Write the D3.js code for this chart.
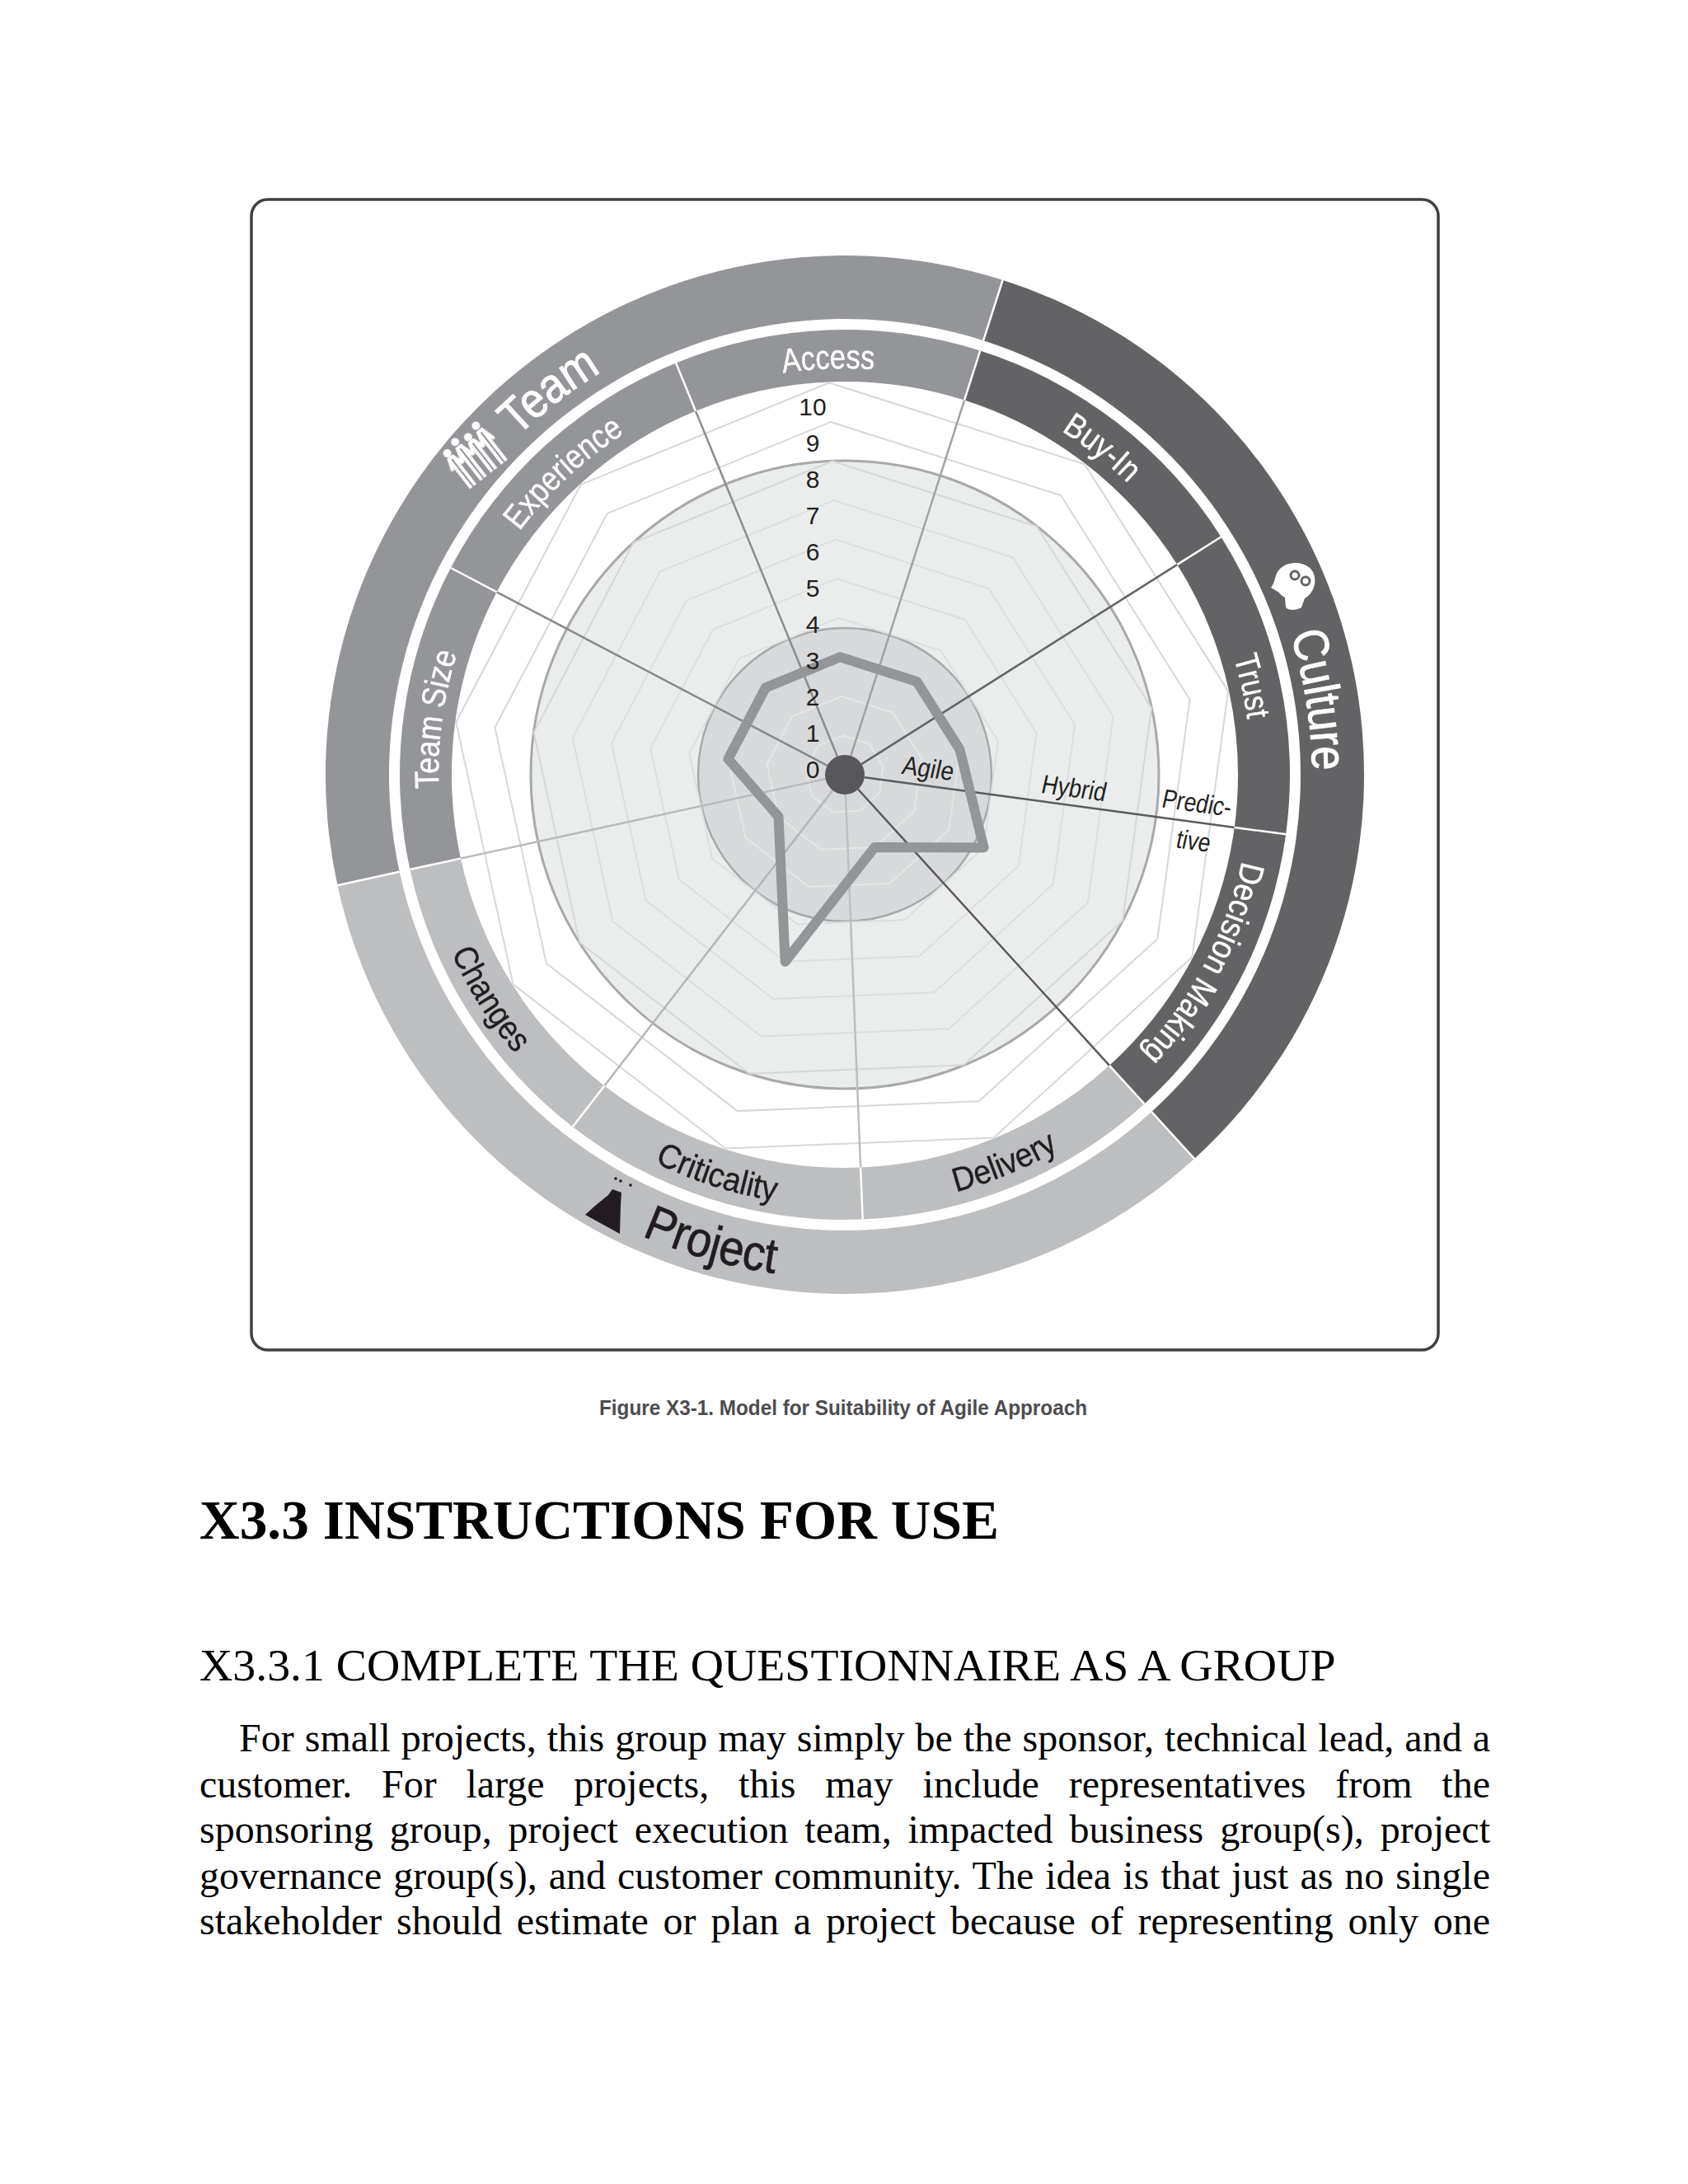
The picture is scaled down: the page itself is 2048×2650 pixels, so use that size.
<!DOCTYPE html>
<html><head><meta charset="utf-8">
<script src="https://cdn.jsdelivr.net/npm/d3@7/dist/d3.min.js"></script>
<style>html,body{margin:0;padding:0;background:#fff}svg{display:block}</style>
</head><body><svg id="page" width="2048" height="2650"></svg>
<script>
const categories=["Access","Buy-In","Trust","Decision Making","Delivery","Criticality","Changes","Team Size","Experience"];
const values=[3,3,3,4,2,5,2,3,3];
const levels=[1,2,3,4,5,6,7,8,9,10];
const tickLabels=["0","1","2","3","4","5","6","7","8","9","10"];
const groups=["Team","Culture","Project"];
const groupOfCategory=["Team","Culture","Culture","Culture","Project","Project","Project","Team","Team"];
const zoneNames=["Agile","Hybrid","Predic-","tive"];
const bodyLines=[
"For small projects, this group may simply be the sponsor, technical lead, and a",
"customer. For large projects, this may include representatives from the",
"sponsoring group, project execution team, impacted business group(s), project",
"governance group(s), and customer community. The idea is that just as no single",
"stakeholder should estimate or plan a project because of representing only one"];

const W=2048,cx=1025,cy=940;
const SANS='"Liberation Sans",sans-serif';
const SERIF='"Liberation Serif",serif';
const svg=d3.select("#page");
const colour=d3.scaleOrdinal().domain(groups).range(["#939598","#636466","#bcbec0"]);
const inkColour=d3.scaleOrdinal().domain(groups).range(["#ffffff","#ffffff","#231f20"]);
const rad=d3.scaleLinear().domain([0,10]).range([0,476]);
const ang=d3.scaleLinear().domain([0,categories.length]).range([-2.3,357.7]);
const toR=d=>d*Math.PI/180;

svg.append("rect").attr("x",305).attr("y",242).attr("width",1440).attr("height",1396).attr("rx",20)
  .attr("fill","#fff").attr("stroke","#3f4042").attr("stroke-width",3.5);

const soft=svg.append("defs").append("filter").attr("id","soft");
soft.append("feGaussianBlur").attr("stdDeviation",0.7);
const g=svg.append("g").attr("transform",`translate(${cx},${cy})`).attr("filter","url(#soft)");
const arc=d3.arc();

groups.forEach((name,i)=>{
  const a0=ang(0.5)+120*(i-1);
  g.append("path").attr("fill",colour(name))
   .attr("d",arc({innerRadius:553,outerRadius:630,startAngle:toR(a0),endAngle:toR(a0+120)}));
});
categories.forEach((c,i)=>{
  g.append("path").attr("fill",colour(groupOfCategory[i]))
   .attr("d",arc({innerRadius:477,outerRadius:540,startAngle:toR(ang(i-0.5)),endAngle:toR(ang(i+0.5))}));
});

g.append("circle").attr("r",381).attr("fill","#ebeded").attr("stroke","#a7a9ac").attr("stroke-width",3);
g.append("circle").attr("r",178).attr("fill","#d7d9db").attr("stroke","#a7a9ac").attr("stroke-width",2.5);

const radial=d3.lineRadial().curve(d3.curveLinearClosed);
levels.forEach(l=>{
  g.append("path").attr("fill","none")
   .attr("stroke",l<=3?"#e4e6e6":(l<=7?"#dcdedf":"#d5d7d8")).attr("stroke-width",2)
   .attr("d",radial(categories.map((c,i)=>[toR(ang(i)),rad(l)])));
});

const spokeColours=["#a0a2a4","#626366","#5a5b5e","#58595b","#bcbec0","#b4b6b8","#b8babc","#86888a","#8a8c8e"];
categories.forEach((c,i)=>{
  const a=toR(ang(i+0.5)),s=Math.sin(a),k=-Math.cos(a);
  g.append("line").attr("x1",24*s).attr("y1",24*k).attr("x2",477*s).attr("y2",477*k)
   .attr("stroke",spokeColours[i]).attr("stroke-width",2.5);
  g.append("line").attr("x1",477*s).attr("y1",477*k).attr("x2",540*s).attr("y2",540*k)
   .attr("stroke","#fff").attr("stroke-width",2.5);
});
groups.forEach((name,i)=>{
  const a=toR(ang(0.5)+120*i),s=Math.sin(a),k=-Math.cos(a);
  g.append("line").attr("x1",553*s).attr("y1",553*k).attr("x2",631*s).attr("y2",631*k)
   .attr("stroke","#fff").attr("stroke-width",2.5);
});

g.append("path").attr("fill","none").attr("stroke","#939598").attr("stroke-width",12).attr("stroke-linejoin","round")
 .attr("d",radial(values.map((v,i)=>[toR(ang(i)),rad(v)])));
g.append("circle").attr("r",24).attr("fill","#58595b");

const defs=svg.select("defs");
function curved(id,text,deg,r,cw,size,fill,factor,boldness){
  const p=d3.path(),span=70;
  const a0=toR(deg-90-span),a1=toR(deg-90+span);
  if(cw){p.moveTo(r*Math.cos(a0),r*Math.sin(a0));p.arc(0,0,r,a0,a1,false);}
  else{p.moveTo(r*Math.cos(a1),r*Math.sin(a1));p.arc(0,0,r,a1,a0,true);}
  defs.append("path").attr("id",id).attr("d",p.toString());
  const t=g.append("text").attr("font-family",SANS).attr("font-size",size).attr("fill",fill)
   .attr("stroke",fill).attr("stroke-width",boldness||0)
   .attr("text-anchor","middle");
  const tp=t.append("textPath").attr("href","#"+id).attr("startOffset","50%").text(text);
  const len=t.node().getComputedTextLength();
  tp.attr("textLength",len*factor).attr("lengthAdjust","spacingAndGlyphs");
}
const catFactor=[0.84,0.87,0.84,0.885,0.91,0.93,0.885,0.87,0.855];
const catNudge=[0,0.5,0,0,0,0,0,0,-0.7];
categories.forEach((c,i)=>{
  const cw=groupOfCategory[i]!=="Project";
  curved("cat"+i,c,ang(i)+catNudge[i],cw?493:524,cw,41,inkColour(groupOfCategory[i]),catFactor[i],0.4);
});
curved("grp0","Team",-37.6,571,true,60,"#fff",0.88,1);
curved("grp1","Culture",81,567,true,60,"#fff",0.87,1);
curved("grp2","Project",195.9,611,false,60,"#231f20",0.9,0.8);

svg.append("g").attr("font-family",SANS).attr("font-size",30).attr("fill","#231f20").attr("text-anchor","middle")
 .selectAll("text").data(tickLabels).join("text")
 .attr("x",986).attr("y",(d,i)=>943.5-i*44).text(d=>d);

const zonePos=[[1124,943],[1301,967],[1450,985],[1446,1031]];
const zoneFactor=[0.88,0.85,0.83,0.83];
svg.append("g").attr("font-family",SANS).attr("font-size",32).attr("fill","#231f20").attr("text-anchor","middle")
 .selectAll("text").data(zoneNames).join("text")
 .attr("transform",(d,i)=>`translate(${zonePos[i][0]},${zonePos[i][1]}) rotate(7.7) skewX(-5) scale(${zoneFactor[i]},1)`).text(d=>d);

const people=svg.append("g").attr("transform","translate(577,555) rotate(-38)").attr("fill","#fff").attr("stroke","#fff").attr("filter","url(#soft)");
[-24,-8,8,24].forEach((x,n)=>{
  people.append("circle").attr("cx",x).attr("cy",n%2?-30:-25).attr("r",5).attr("stroke","none");
  people.append("path").attr("fill","none").attr("stroke-width",4)
   .attr("d",`M${x-8},-4L${x-3},${n%2?-22:-18}L${x+3},${n%2?-22:-18}L${x+8},-4M${x-3},${n%2?-22:-18}L${x-3},26M${x+3},${n%2?-22:-18}L${x+3},26`);
});
const head=svg.append("g").attr("transform","translate(1569,711)").attr("filter","url(#soft)");
head.append("path").attr("fill","#fff").attr("d","M-27,2C-22,-4 -23,-10 -19,-17C-12,-29 8,-32 20,-22C31,-12 27,8 14,15L10,26C4,30 -6,30 -9,26L-10,14C-14,12 -16,10 -17,8Z");
[[2,-13,5],[15,-6,5]].forEach(d=>head.append("circle").attr("cx",d[0]).attr("cy",d[1]).attr("r",d[2]).attr("fill","none").attr("stroke","#636466").attr("stroke-width",3));
const flask=svg.append("g").attr("filter","url(#soft)");
flask.append("path").attr("fill","#231f20").attr("d","M710,1474L722,1463L738,1450L743,1443L754,1447L753,1462L752,1497Z");
[[747,1430],[753,1433],[765,1438]].forEach(d=>flask.append("circle").attr("cx",d[0]).attr("cy",d[1]).attr("r",1.8).attr("fill","#231f20"));

svg.append("text").attr("x",727).attr("y",1717).attr("font-family",SANS).attr("font-weight",700)
 .attr("font-size",26).attr("fill","#4d4d4f").attr("textLength",592).attr("lengthAdjust","spacingAndGlyphs")
 .text("Figure X3-1. Model for Suitability of Agile Approach");

svg.append("text").attr("x",242).attr("y",1867).attr("font-family",SERIF).attr("font-weight",700).attr("font-size",67.4).attr("fill","#000").text("X3.3 INSTRUCTIONS FOR USE");
svg.append("text").attr("x",242).attr("y",2039).attr("font-family",SERIF).attr("font-size",55.8).attr("fill","#000").text("X3.3.1 COMPLETE THE QUESTIONNAIRE AS A GROUP");
const body=svg.append("g").attr("font-family",SERIF).attr("font-size",48).attr("fill","#000");
body.selectAll("text").data(bodyLines).join("text")
  .attr("x",(d,i)=>i===0?290:242).attr("y",(d,i)=>2125+i*55.5).text(d=>d)
  .each(function(d,i){
    const x0=i===0?290:242,gap=d.split(" ").length-1;
    const w=this.getComputedTextLength();
    d3.select(this).attr("word-spacing",(1808-x0-w)/gap);
  });
</script></body></html>
